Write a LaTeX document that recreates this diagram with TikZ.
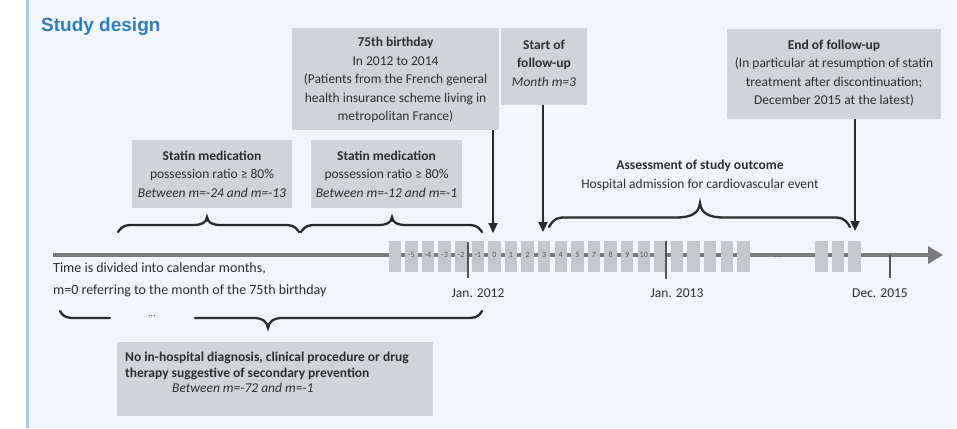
\documentclass[tikz,border=0pt]{standalone}
\usepackage{fontspec}
\setmainfont{Carlito}
\newfontfamily\titlefont{Liberation Sans}
\usetikzlibrary{arrows.meta}
\definecolor{panel}{HTML}{F2F6FB}
\definecolor{panelline}{HTML}{A8C8E6}
\definecolor{boxgray}{HTML}{D0D3D7}
\definecolor{mgray}{HTML}{C4C7CB}
\definecolor{txt}{HTML}{2E2E2E}
\definecolor{titleblue}{HTML}{2E7DC0}
\definecolor{axisgray}{HTML}{7B7B7B}
\definecolor{arrdark}{HTML}{2A2A2A}
\definecolor{tickgray}{HTML}{555555}
\tikzset{
  gbox/.style={fill=boxgray, draw=none, inner sep=0pt},
  btext/.style={align=center, text=txt, inner sep=0pt, font=\fontsize{13.5}{18.5}\selectfont},
  mbox/.style={fill=mgray, draw=none, inner sep=0pt, minimum width=12.5pt, minimum height=31pt},
  mlab/.style={text=tickgray, inner sep=0pt, font=\fontsize{8}{9}\selectfont},
  downarrow/.style={draw=arrdark, line width=2.2pt, -{Triangle[length=10pt,width=9pt]}},
  bracestyle/.style={draw=arrdark, line width=2.3pt, line cap=round},
  ticklinestyle/.style={draw=tickgray, line width=2.4pt},
  ticklab/.style={text=txt, inner sep=0pt, font=\fontsize{13.5}{16}\selectfont},
}
% xa, xb, xm, ye, ym, yt, we, wt
\newcommand\bracetop[8]{%
  \draw[bracestyle] (#1,#4) .. controls ({#1+0.3*#7},#5) and ({#1+0.5*#7},#5) .. ({#1+#7},#5)
    -- ({#3-#8},#5) .. controls ({#3-0.35*#8},#5) and ({#3-0.05*#8},{#5-0.3*(#5-#6)}) .. (#3,#6)
    .. controls ({#3+0.05*#8},{#5-0.3*(#5-#6)}) and ({#3+0.35*#8},#5) .. ({#3+#8},#5)
    -- ({#2-#7},#5) .. controls ({#2-0.5*#7},#5) and ({#2-0.3*#7},#5) .. (#2,#4);}
\begin{document}
\begin{tikzpicture}[x=1pt,y=-1pt]
\useasboundingbox (0,0) rectangle (957,428);
\fill[white] (0,0) rectangle (957,428);
\fill[panel] (27,0) rectangle (957,428);
\draw[panelline, line width=2.5pt] (27.5,0) -- (27.5,428);

\node[anchor=base west, inner sep=0pt, text=titleblue, font=\titlefont\bfseries\fontsize{19}{22}\selectfont] (title) at (41,32) {Study design};

% top boxes
\node[gbox, minimum width=207pt, minimum height=102pt] (bday) at (395.5,79) {};
\node[btext] (bdaytxt) at (395.5,80) {\textbf{75th birthday}\\In 2012 to 2014\\(Patients from the French general\\health insurance scheme living in\\metropolitan France)};
\node[gbox, minimum width=86pt, minimum height=77pt] (start) at (544,66.5) {};
\node[btext] (starttxt) at (544,63) {\textbf{Start of}\\\textbf{follow-up}\\\textit{Month m=3}};
\node[gbox, minimum width=214pt, minimum height=90pt] (endfu) at (834,74) {};
\node[btext] (endtxt) at (834,73) {\textbf{End of follow-up}\\(In particular at resumption of statin\\treatment after discontinuation;\\December 2015 at the latest)};

% statin boxes
\node[gbox, minimum width=160pt, minimum height=68pt] (stat1) at (212,174) {};
\node[btext] (stat1txt) at (212,174) {\textbf{Statin medication}\\possession ratio ≥ 80\%\\\textit{Between m=-24 and m=-13}};
\node[gbox, minimum width=151pt, minimum height=68pt] (stat2) at (386.5,174) {};
\node[btext] (stat2txt) at (386.5,174) {\textbf{Statin medication}\\possession ratio ≥ 80\%\\\textit{Between m=-12 and m=-1}};

% assessment text
\node[btext] (assess) at (700,175.5) {\textbf{Assessment of study outcome}\\Hospital admission for cardiovascular event};

% bottom box
\node[gbox, minimum width=316pt, minimum height=74pt] (bottom) at (275,379) {};
\node[btext, align=left, anchor=west, font=\fontsize{13.5}{15.5}\selectfont] (bottomtxt) at (125,372.5) {\textbf{No in-hospital diagnosis, clinical procedure or drug}\\\textbf{therapy suggestive of secondary prevention}\\\hspace*{47pt}\textit{Between m=-72 and m=-1}};

% timeline
\coordinate (tl0) at (53,255);
\coordinate (tl1) at (943,255);
\draw[draw=axisgray, line width=3.5pt, -{Triangle[length=15pt,width=17pt]}] (tl0) -- (tl1);

\foreach \i in {0,...,21} {\node[mbox] (m\i) at ({388.5+16.6*\i+6.25},256.5) {};}
\foreach \i in {0,1,2} {\node[mbox] (e\i) at ({815+16.6*\i+6.25},256.5) {};}
\foreach \i/\l in {1/-5,2/-4,3/-3,4/-2,5/-1,6/0,7/1,8/2,9/3,10/4,11/5,12/7,13/8,14/9,15/10}
  {\node[mlab] (ml\i) at ({388.5+16.6*\i+6.25},255) {\l};}
\node[text=tickgray, inner sep=0pt, font=\fontsize{10}{12}\selectfont] (dots1) at (778,257) {...};

% ticks
\coordinate (j12a) at (468,242); \coordinate (j12b) at (468,278);
\coordinate (j13a) at (666,241); \coordinate (j13b) at (666,279);
\coordinate (d15a) at (890,255); \coordinate (d15b) at (890,278);
\draw[ticklinestyle] (j12a) -- (j12b);
\draw[ticklinestyle] (j13a) -- (j13b);
\draw[ticklinestyle] (d15a) -- (d15b);
\node[ticklab, anchor=base] (j12lab) at (478,297) {Jan. 2012};
\node[ticklab, anchor=base] (j13lab) at (677,297) {Jan. 2013};
\node[ticklab, anchor=base] (d15lab) at (880,297) {Dec. 2015};

% left text
\node[anchor=base west, align=left, text=txt, inner sep=0pt, font=\fontsize{14}{22}\selectfont] (timetxt) at (53,294.5) {Time is divided into calendar months,\\m=0 referring to the month of the 75th birthday};

% arrows
\coordinate (bdayarr) at (493,233);
\coordinate (startarr) at (543,232);
\coordinate (endarr) at (855,231);
\draw[downarrow] (bday.south -| bdayarr) -- (bdayarr);
\draw[downarrow] (start.south -| startarr) -- (startarr);
\draw[downarrow] (endfu.south -| endarr) -- (endarr);

% braces
\bracetop{118}{299}{207}{232}{225}{217}{16}{14}
\bracetop{301}{482}{392}{232}{225}{217}{16}{14}
\bracetop{549}{850}{700}{227}{217.5}{203}{18}{24}

% bottom brace
\draw[bracestyle] (60,311) .. controls (64,318) and (68,318) .. (76,318) -- (110,318);
\draw[bracestyle] (195,318) -- (254,318) .. controls (262,318) and (267,321) .. (268,328)
  .. controls (269,321) and (274,318) .. (282,318) -- (466,318) .. controls (474,318) and (478,318) .. (482,311);
\node[text=tickgray, inner sep=0pt, font=\fontsize{10}{12}\selectfont] (dots2) at (152,316) {...};
\end{tikzpicture}
\end{document}
